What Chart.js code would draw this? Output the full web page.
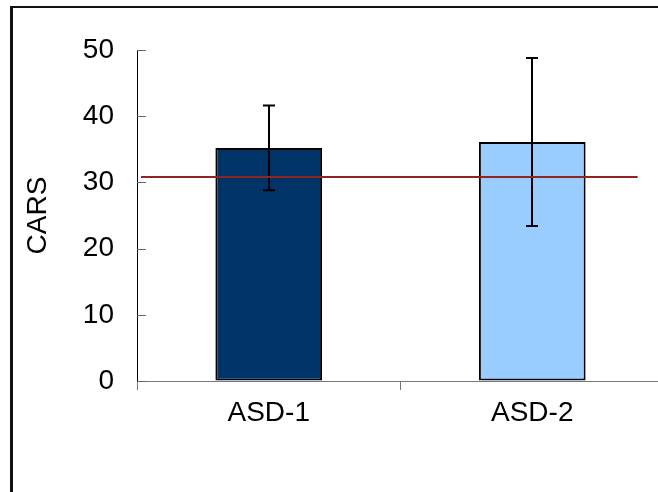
<!DOCTYPE html>
<html>
<head>
<meta charset="utf-8">
<script src="https://cdn.jsdelivr.net/npm/chart.js@4/dist/chart.umd.min.js"></script>
<style>
  html, body { margin: 0; padding: 0; background: #fff; overflow: hidden; width: 658px; height: 492px; }
  #frame { position: absolute; left: 10px; top: 6px; width: 720px; height: 540px;
           border-left: 3px solid #111; border-top: 2px solid #111; }
  #c { position: absolute; left: 0; top: 0; }
</style>
</head>
<body>
<div id="frame"></div>
<canvas id="c" width="680" height="500"></canvas>
<script>
// Groups and their CARS scores (mean and standard deviation)
const categories = ['ASD-1', 'ASD-2'];
const meanCARS = [35.2, 36.1];
const sdCARS = [6.4, 12.7];
const barColors = ['#003366', '#99CCFF'];
// Reference level drawn across the plot
const cutoffCARS = 30.8;
// Value axis
const yMin = 0, yMax = 50, yStep = 10;

const FONT = "'Liberation Sans', Arial, sans-serif";

// Short tick marks on the inner side of the value axis
const innerTicks = {
  id: 'innerTicks',
  afterDraw(chart) {
    const { ctx, chartArea, scales: { y } } = chart;
    ctx.save();
    ctx.strokeStyle = '#666';
    ctx.lineWidth = 1;
    y.ticks.forEach(t => {
      const py = Math.round(y.getPixelForValue(t.value)) + 0.5;
      ctx.beginPath();
      ctx.moveTo(chartArea.left, py);
      ctx.lineTo(chartArea.left + 9, py);
      ctx.stroke();
    });
    ctx.restore();
  }
};

// Error bars (mean ± SD) and the horizontal reference line
const overlays = {
  id: 'overlays',
  afterDatasetsDraw(chart) {
    const { ctx, chartArea, scales: { y } } = chart;
    const meta = chart.getDatasetMeta(0);
    ctx.save();
    ctx.strokeStyle = '#000';
    ctx.lineWidth = 2;
    meta.data.forEach((bar, i) => {
      const x = Math.round(bar.x);
      const top = y.getPixelForValue(meanCARS[i] + sdCARS[i]);
      const bot = y.getPixelForValue(meanCARS[i] - sdCARS[i]);
      ctx.beginPath();
      ctx.moveTo(x, top); ctx.lineTo(x, bot);
      ctx.moveTo(x - 6, top); ctx.lineTo(x + 6, top);
      ctx.moveTo(x - 6, bot); ctx.lineTo(x + 6, bot);
      ctx.stroke();
    });
    const ry = Math.round(y.getPixelForValue(cutoffCARS));
    const w = chartArea.right - chartArea.left;
    ctx.strokeStyle = '#8E2424';
    ctx.lineWidth = 2;
    ctx.beginPath();
    ctx.moveTo(chartArea.left + 4, ry);
    ctx.lineTo(chartArea.left + 0.95 * w, ry);
    ctx.stroke();
    ctx.restore();
  }
};

new Chart(document.getElementById('c'), {
  type: 'bar',
  data: {
    labels: categories,
    datasets: [{
      data: meanCARS,
      backgroundColor: barColors,
      borderColor: '#000',
      borderWidth: 2,
      borderSkipped: false,
      barPercentage: 0.405,
      categoryPercentage: 1
    }]
  },
  options: {
    responsive: false,
    animation: false,
    devicePixelRatio: 1,
    layout: { padding: { left: 0, right: 16, top: 50, bottom: 0 } },
    plugins: { legend: { display: false }, tooltip: { enabled: false } },
    scales: {
      x: {
        offset: true,
        grid: { offset: true, drawOnChartArea: false, drawTicks: true, tickLength: 9, color: '#777' },
        border: { color: '#777', width: 1 },
        ticks: { color: '#000', font: { family: FONT, size: 28 }, padding: 6, maxRotation: 0 },
        afterFit(s) { s.height = 119; }
      },
      y: {
        min: yMin, max: yMax,
        ticks: { stepSize: yStep, color: '#000', font: { family: FONT, size: 28 }, padding: 23 },
        grid: { drawOnChartArea: false, drawTicks: false },
        border: { color: '#000', width: 1 },
        title: { display: true, text: 'CARS', color: '#000', font: { family: FONT, size: 28 }, padding: { top: 21, bottom: 0 } },
        afterFit(s) { s.width = 137; }
      }
    }
  },
  plugins: [innerTicks, overlays]
});
</script>
</body>
</html>
